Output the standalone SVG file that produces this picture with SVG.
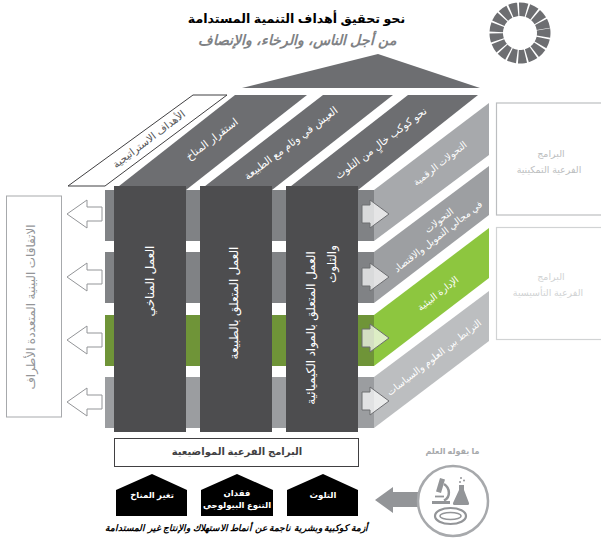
<svg xmlns="http://www.w3.org/2000/svg" width="601" height="543" viewBox="0 0 601 543">
<style>
text{font-family:"Liberation Sans","DejaVu Sans",sans-serif;text-anchor:middle;direction:rtl}
.w{fill:#fff;font-size:9.500px}
.t{fill:#fff;font-size:10.500px}
.c{fill:#fff;font-size:12px}
.top{fill:#6d6e71}
.col{fill:#4d4d4f}
.la{fill:#fff;stroke:#939598;stroke-width:1}
.ra{fill:#fff;fill-opacity:.7;stroke:#6d6e71;stroke-width:1}
.h{fill:#000}
.hl{fill:#fff;font-size:8.500px;font-weight:bold}
.box{fill:#fff;stroke:#bcbec0;stroke-width:1.200}
.g{fill:#bcbec0;font-size:9.500px}
.i{fill:#939598}
.s{fill:none;stroke:#939598}
</style>
<defs>
<path id="la" d="M0,0L20,-14V-7H35V7H20V14Z"/>
<path id="ra" d="M27,0L8,-14V-9H0V9H8V14Z"/>
</defs>
<g id="title">
<text x="296.500" y="23" font-size="12.600" font-weight="bold" fill="#000">نحو تحقيق أهداف التنمية المستدامة</text>
<text x="297" y="44.500" font-size="14" font-weight="bold" font-style="italic" fill="#808285">من أجل الناس، والرخاء، والإنصاف</text>
</g>
<g id="sdg-wheel"><circle cx="520" cy="33" r="23.750" fill="none" stroke="#6d6e71" stroke-width="13.500" stroke-dasharray="7.300 1.478" transform="rotate(-8.800 520 33)"/></g>
<g id="roof"><path d="M242,88L378,54L480,88Z" fill="#6d6e71"/></g>
<g id="strategic-goals"><path d="M68,186H105L227,95H193Z" fill="#fff" stroke="#414042" stroke-width="1"/>
<text transform="translate(151,142) rotate(-37)" font-size="10.500" fill="#58595b">الأهداف الاستراتيجية</text></g>
<g id="bands">
<path d="M105,190H374V241H105Z" fill="#808285"/><path d="M374,190L489,103V155L374,241Z" fill="#a7a9ac"/>
<path d="M105,252H374V303H105Z" fill="#808285"/><path d="M374,252L489,166V215L374,303Z" fill="#9d9fa2"/>
<path d="M105,315H374V366H105Z" fill="#6f9438"/><path d="M374,315L489,228V278L374,366Z" fill="#8dc63f"/>
<path d="M105,377H374V428H105Z" fill="#9b9da0"/><path d="M374,377L489,291V341L374,428Z" fill="#bcbec0"/>
<text class="w" transform="translate(442,166) rotate(-38)">التحولات الرقمية</text>
<text class="w" transform="translate(441,223) rotate(-38)">التحولات</text>
<text class="w" transform="translate(440,239) rotate(-38)">في مجالي التمويل والاقتصاد</text>
<text class="w" transform="translate(440,296) rotate(-38)">الإدارة البيئية</text>
<text class="w" transform="translate(436,360) rotate(-38)">الترابط بين العلوم والسياسات</text>
</g>
<g id="goal-1"><path class="top" d="M114,190L235,95H307L186,190Z"/>
<text class="t" transform="translate(214,142) rotate(-37)">استقرار المناخ</text></g>
<g id="goal-2"><path class="top" d="M200,190L323,95H393L272,190Z"/>
<text class="t" transform="translate(293,146) rotate(-37)">العيش في وئام مع الطبيعة</text></g>
<g id="goal-3"><path class="top" d="M286,190L408,95H478L358,190Z"/>
<text class="t" transform="translate(383,146) rotate(-37)">نحو كوكب خالٍ من التلوث</text></g>
<g id="columns">
<rect class="col" x="114" y="186" width="72" height="246"/>
<rect class="col" x="200" y="186" width="72" height="246"/>
<rect class="col" x="286" y="186" width="72" height="246"/>
<text class="c" transform="translate(150,281) rotate(-90)" dy="4">العمل المناخي</text>
<text class="c" transform="translate(234,303) rotate(-90)" dy="4">العمل المتعلق بالطبيعة</text>
<text class="c" transform="translate(311,328) rotate(-90)" dy="4">العمل المتعلق بالمواد الكيميائية</text>
<text class="c" transform="translate(332,264) rotate(-90)" dy="4">والتلوث</text>
</g>
<g id="connectors">
<use href="#la" x="67" y="214" class="la"/><use href="#la" x="67" y="277" class="la"/><use href="#la" x="67" y="340" class="la"/><use href="#la" x="67" y="402" class="la"/>
<use href="#ra" x="362" y="214" class="ra"/><use href="#ra" x="362" y="277" class="ra"/><use href="#ra" x="362" y="338" class="ra"/><use href="#ra" x="362" y="401" class="ra"/>
<path d="M375,500L393,487V492H422V507H393V513Z" fill="#939598"/>
</g>
<g id="left-box"><rect x="6.500" y="196" width="55" height="221" fill="#fff" stroke="#a7a9ac" stroke-width="1"/>
<text transform="translate(32,307) rotate(-90)" dy="3" font-size="12" fill="#939598">الاتفاقات البينية المتعددة الأطراف</text></g>
<g id="enabling"><rect class="box" x="496.500" y="103" width="110" height="112"/>
<text class="g" x="551" y="157">البرامج</text><text class="g" x="549" y="173">الفرعية التمكينية</text></g>
<g id="foundation"><rect class="box" x="496.500" y="227.500" width="110" height="112" style="stroke:#d1d3d4"/>
<text class="g" x="551" y="280" style="fill:#d1d3d4">البرامج</text><text class="g" x="548" y="296" style="fill:#d1d3d4">الفرعية التأسيسية</text></g>
<g id="thematic"><rect x="114.500" y="438.500" width="244" height="28" fill="#fff" stroke="#414042" stroke-width="1"/>
<text x="237" y="455" font-size="10" font-weight="bold" fill="#414042">البرامج الفرعية المواضيعية</text></g>
<g id="climate"><path class="h" d="M116,490L152,474L187,490V516H116Z"/><text class="hl" x="152" y="498">تغير المناخ</text></g>
<g id="bio"><path class="h" d="M201,490L237,474L273,490V516H201Z"/><text class="hl" x="237" y="496">فقدان</text><text class="hl" x="237" y="508">التنوع البيولوجي</text></g>
<g id="pollution"><path class="h" d="M287,490L323,474L358,490V516H287Z"/><text class="hl" x="323" y="498">التلوث</text></g>
<g id="crisis"><text x="236.500" y="531" font-size="9" font-weight="bold" font-style="italic" fill="#000">أزمة كوكبية وبشرية ناجمة عن أنماط الاستهلاك والإنتاج غير المستدامة</text></g>
<g id="science"><text x="452.500" y="454" font-size="8" font-weight="bold" fill="#a7a9ac">ما يقوله العلم</text>
<circle cx="453" cy="501" r="35" fill="#fff" stroke="#a7a9ac" stroke-width="2.500"/>
<path class="i" d="M432,501H450V504H432ZM440,478L445,479.500L441,493L436,491.500Z"/>
<path class="s" stroke-width="2.500" d="M444,484C450,488 451,497 444,500.500"/>
<path class="s" stroke-width="1.800" d="M435,496.500H444"/>
<path class="i" d="M459,485H464V490L469,503Q469.500,505 467,505H455Q452.500,505 453,503L459,490Z"/>
<circle class="i" cx="461" cy="478" r="1"/><circle class="i" cx="464" cy="480.500" r="1"/><circle class="i" cx="460" cy="482" r="1"/>
<ellipse class="s" cx="450.500" cy="516" rx="15.500" ry="8" stroke-width="2.200"/>
<ellipse class="s" cx="450.500" cy="516" rx="10.500" ry="3.500" stroke-width="1.500"/>
</g>
</svg>
